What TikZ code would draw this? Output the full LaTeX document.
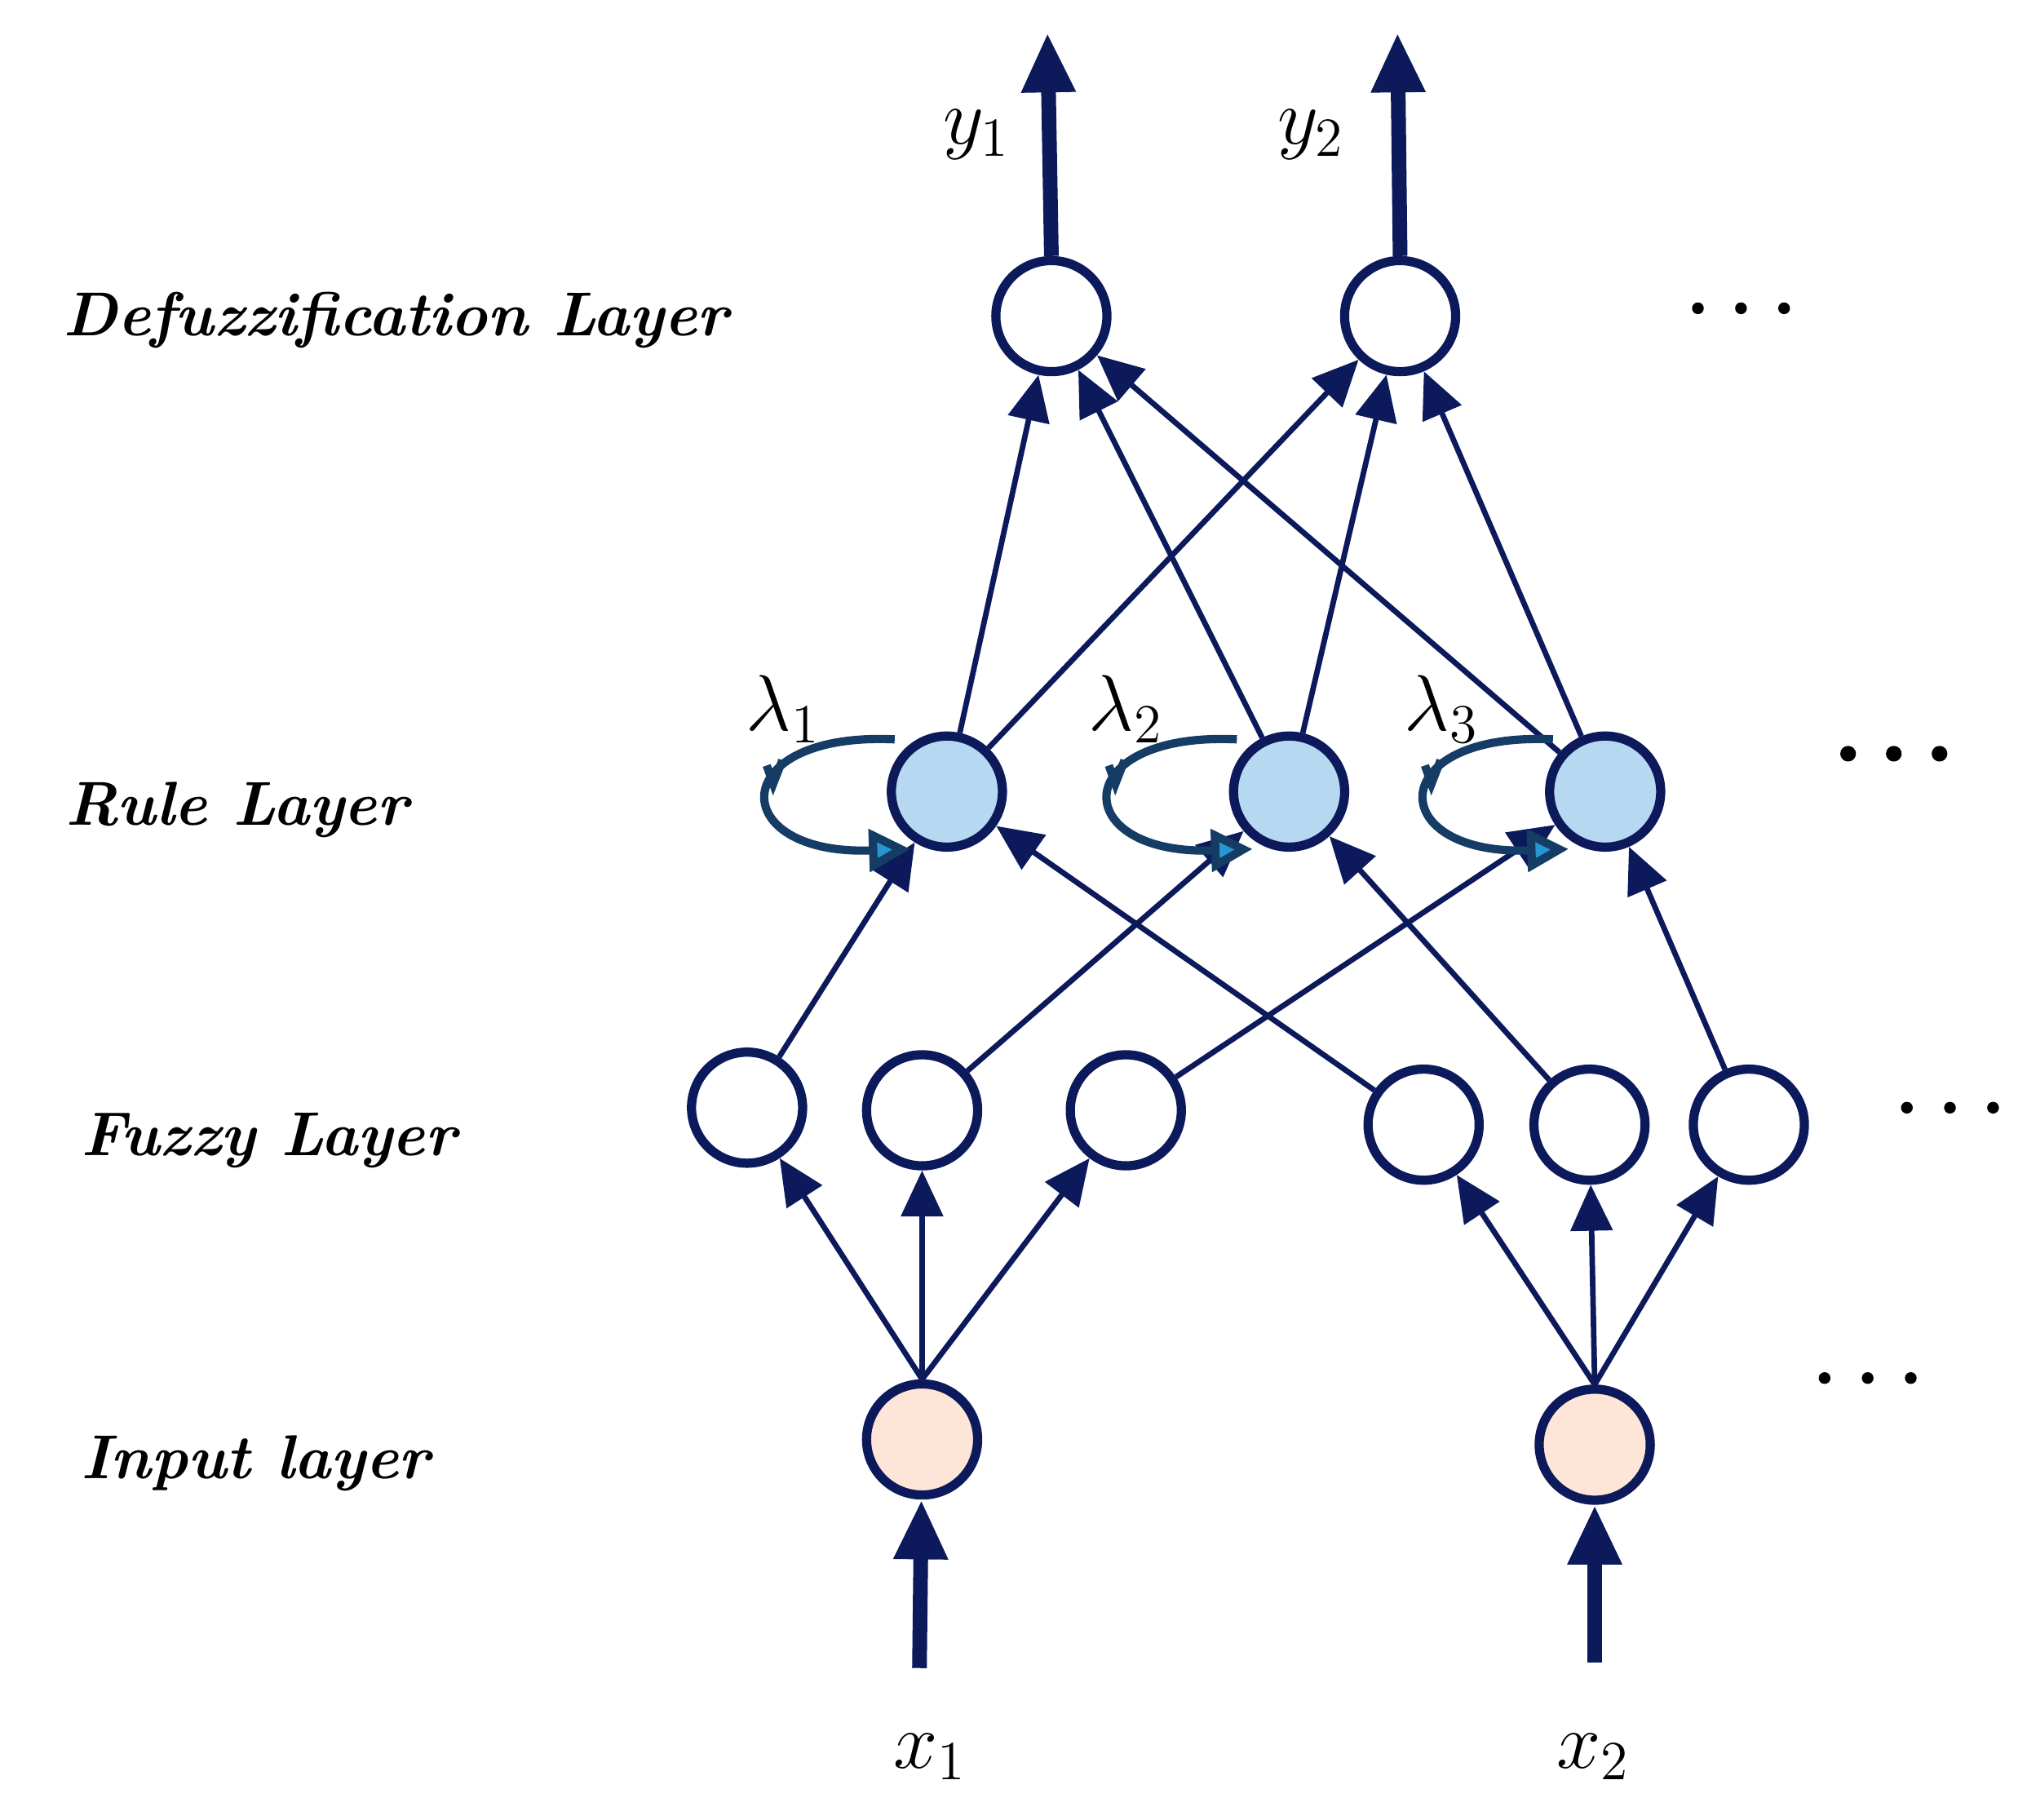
\documentclass[tikz,border=0pt]{standalone}
\usetikzlibrary{arrows.meta}
\begin{document}
\definecolor{nv}{RGB}{12,26,92}
\definecolor{lp}{RGB}{20,60,100}
\definecolor{rb}{RGB}{182,216,240}
\definecolor{ip}{RGB}{253,230,215}
\definecolor{cy}{RGB}{40,150,210}
\begin{tikzpicture}[x=0.01cm,y=-0.01cm,
  nd/.style={circle,draw=nv,line width=2pt,minimum size=0.85cm,inner sep=0pt,fill=white},
  ed/.style={draw=nv,line width=1.2pt,-{Triangle[length=10pt,width=9pt]}},
  big/.style={draw=nv,line width=3.2pt,-{Triangle[length=13pt,width=11pt]}},
  lp/.style={draw=lp,line width=1.8pt,-{Triangle[open,length=9pt,width=9pt,fill=cy]}},
  lab/.style={font=\fontsize{13.5}{16}\selectfont\bfseries\itshape,anchor=west},
  ml/.style={font=\fontsize{18}{22}\selectfont}]
\useasboundingbox (0,0) rectangle (1552,1393);
\node[nd] (D1) at (805,242) {};
\node[nd] (D2) at (1072,242) {};
\foreach \n/\x in {R1/725,R2/987,R3/1229} \node[nd,fill=rb] (\n) at (\x,606) {};
\node[nd] (F1) at (572,848) {};
\node[nd] (F2) at (706,850) {};
\node[nd] (F3) at (862,850) {};
\node[nd] (F4) at (1090,861) {};
\node[nd] (F5) at (1217,861) {};
\node[nd] (F6) at (1339,861) {};
\node[nd,fill=ip] (I1) at (706,1102) {};
\node[nd,fill=ip] (I2) at (1221,1106) {};
\foreach \a/\b in {F1/R1,F2/R2,F3/R3,F4/R1,F5/R2,F6/R3,R1/D1,R1/D2,R2/D1,R2/D2,R3/D1,R3/D2}
  \draw[ed] (\a) -- (\b);
\foreach \b in {F1,F2,F3} \draw[ed] (I1.north) -- (\b);
\foreach \b in {F4,F5,F6} \draw[ed] (I2.north) -- (\b);
\coordinate (xa) at (704,1277); \coordinate (xb) at (1221,1273);
\coordinate (ya) at (802,25); \coordinate (yb) at (1070,25);
\draw[big] (xa) -- (I1);
\draw[big] (xb) -- (I2);
\draw[big] (D1.north) -- (ya);
\draw[big] (D2.north) -- (yb);
\node[ml] (tx1) at (712,1345) {$x_1$};
\node[ml] (tx2) at (1220,1345) {$x_2$};
\node[ml] (ty1) at (748,103) {$y_1$};
\node[ml] (ty2) at (1004,103) {$y_2$};
\foreach \n/\x/\l in {R1/725/1,R2/987/2,R3/1229/3}{
  \draw[lp] (\x-40,566) .. controls (\x-170,560) and (\x-170,655) .. (\x-28,650);
  \draw[lp,-] (\x-138,586) -- (\x-133,600) -- (\x-126,582);
  \node[ml] at (\x-125,543) {$\lambda_\l$};
}
\node[lab] (L1) at (36,245) {Defuzzification Layer};
\node[lab] (L2) at (38,620) {Rule Layer};
\node[lab] (L3) at (50,873) {Fuzzy Layer};
\node[lab] (L4) at (50,1120) {Input layer};
\foreach \x in {1300,1333,1366} \fill (\x,236) circle (4.5);
\foreach \x in {1415,1450,1485} \fill (\x,577) circle (6);
\foreach \x in {1460,1493,1526} \fill (\x,848) circle (4.5);
\foreach \x in {1397,1430,1463} \fill (\x,1055) circle (4.5);
\end{tikzpicture}
\end{document}
